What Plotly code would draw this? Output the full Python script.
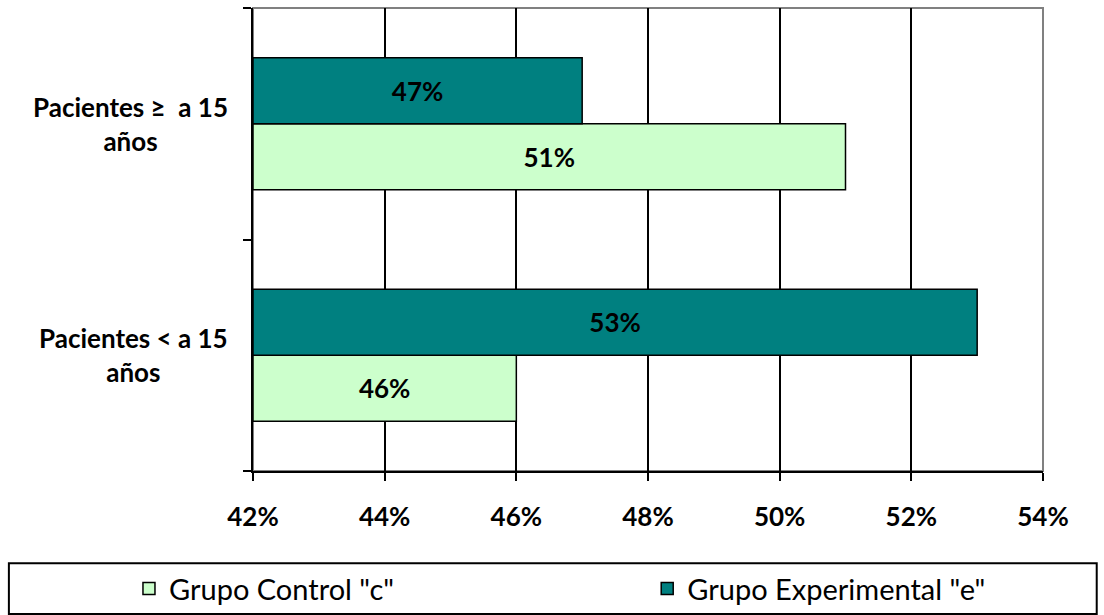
import plotly.graph_objects as go

categories = ["Pacientes < a 15 años", "Pacientes ≥  a 15 años"]
category_labels = ["Pacientes < a 15<br>años", "Pacientes ≥  a 15<br>años"]
control = [0.46, 0.51]
experimental = [0.53, 0.47]
series_names = ['Grupo Control "c"', 'Grupo Experimental "e"']
x_ticks = [0.42, 0.44, 0.46, 0.48, 0.50, 0.52, 0.54]
x_min, x_max = 0.42, 0.54

FONT = "Lato"
BOLD = dict(family=FONT, size=26, color="black", weight="bold")

fig = go.Figure()
fig.add_trace(go.Bar(
    y=categories, x=[v - x_min for v in control], base=x_min, orientation="h",
    name=series_names[0], legend="legend",
    marker=dict(color="#CCFFCC", line=dict(color="black", width=1.5)),
    text=[f"{v:.0%}" for v in control], textposition="inside",
    insidetextanchor="middle", textfont=BOLD, textangle=0,
    hovertext=[f"{v:.0%}" for v in control], hoverinfo="text+y",
))
fig.add_trace(go.Bar(
    y=categories, x=[v - x_min for v in experimental], base=x_min, orientation="h",
    name=series_names[1], legend="legend2",
    marker=dict(color="#008080", line=dict(color="black", width=1.5)),
    text=[f"{v:.0%}" for v in experimental], textposition="inside",
    insidetextanchor="middle", textfont=BOLD, textangle=0,
    hovertext=[f"{v:.0%}" for v in experimental], hoverinfo="text+y",
))

# plot-area border (top/right gray)
fig.add_shape(type="rect", xref="paper", yref="paper", x0=0, x1=1, y0=0, y1=1,
              line=dict(color="#808080", width=2), layer="below")
# legend box
fig.add_shape(type="rect", xref="paper", yref="paper", x0=-0.309, x1=1.068,
              y0=-0.309, y1=-0.199, line=dict(color="black", width=2))

for cat, lab in zip(categories, category_labels):
    fig.add_annotation(x=-0.029, xref="paper", y=cat, yref="y", text=lab,
                       showarrow=False, xanchor="right", align="center",
                       font=BOLD)

leg_common = dict(orientation="h", yanchor="middle", y=-0.254,
                  font=dict(family=FONT, size=29, color="black"),
                  bgcolor="rgba(0,0,0,0)", borderwidth=0)

fig.update_layout(
    width=1104, height=615,
    margin=dict(l=253, r=61, t=8, b=144, autoexpand=False),
    paper_bgcolor="white", plot_bgcolor="white",
    barmode="group", bargap=0.43, bargroupgap=0,
    showlegend=True,
    legend=dict(x=-0.157, xanchor="left", **leg_common),
    legend2=dict(x=0.499, xanchor="left", **leg_common),
    uniformtext=dict(mode=False),
    xaxis=dict(range=[x_min, x_max], tickvals=x_ticks, tickformat=".0%",
               showgrid=True, gridcolor="black", gridwidth=1.5,
               showline=True, linecolor="black", linewidth=2,
               ticks="outside", ticklen=8, tickcolor="black", tickwidth=1.5,
               ticklabelstandoff=14,
               tickfont=BOLD, zeroline=False, fixedrange=True),
    yaxis=dict(categoryorder="array", categoryarray=categories,
               showticklabels=False, showline=True, linecolor="black", linewidth=2,
               ticks="outside", tickson="boundaries", ticklen=8, tickcolor="black",
               tickwidth=1.5, showgrid=False, fixedrange=True),
)

fig.write_html("out.html")
